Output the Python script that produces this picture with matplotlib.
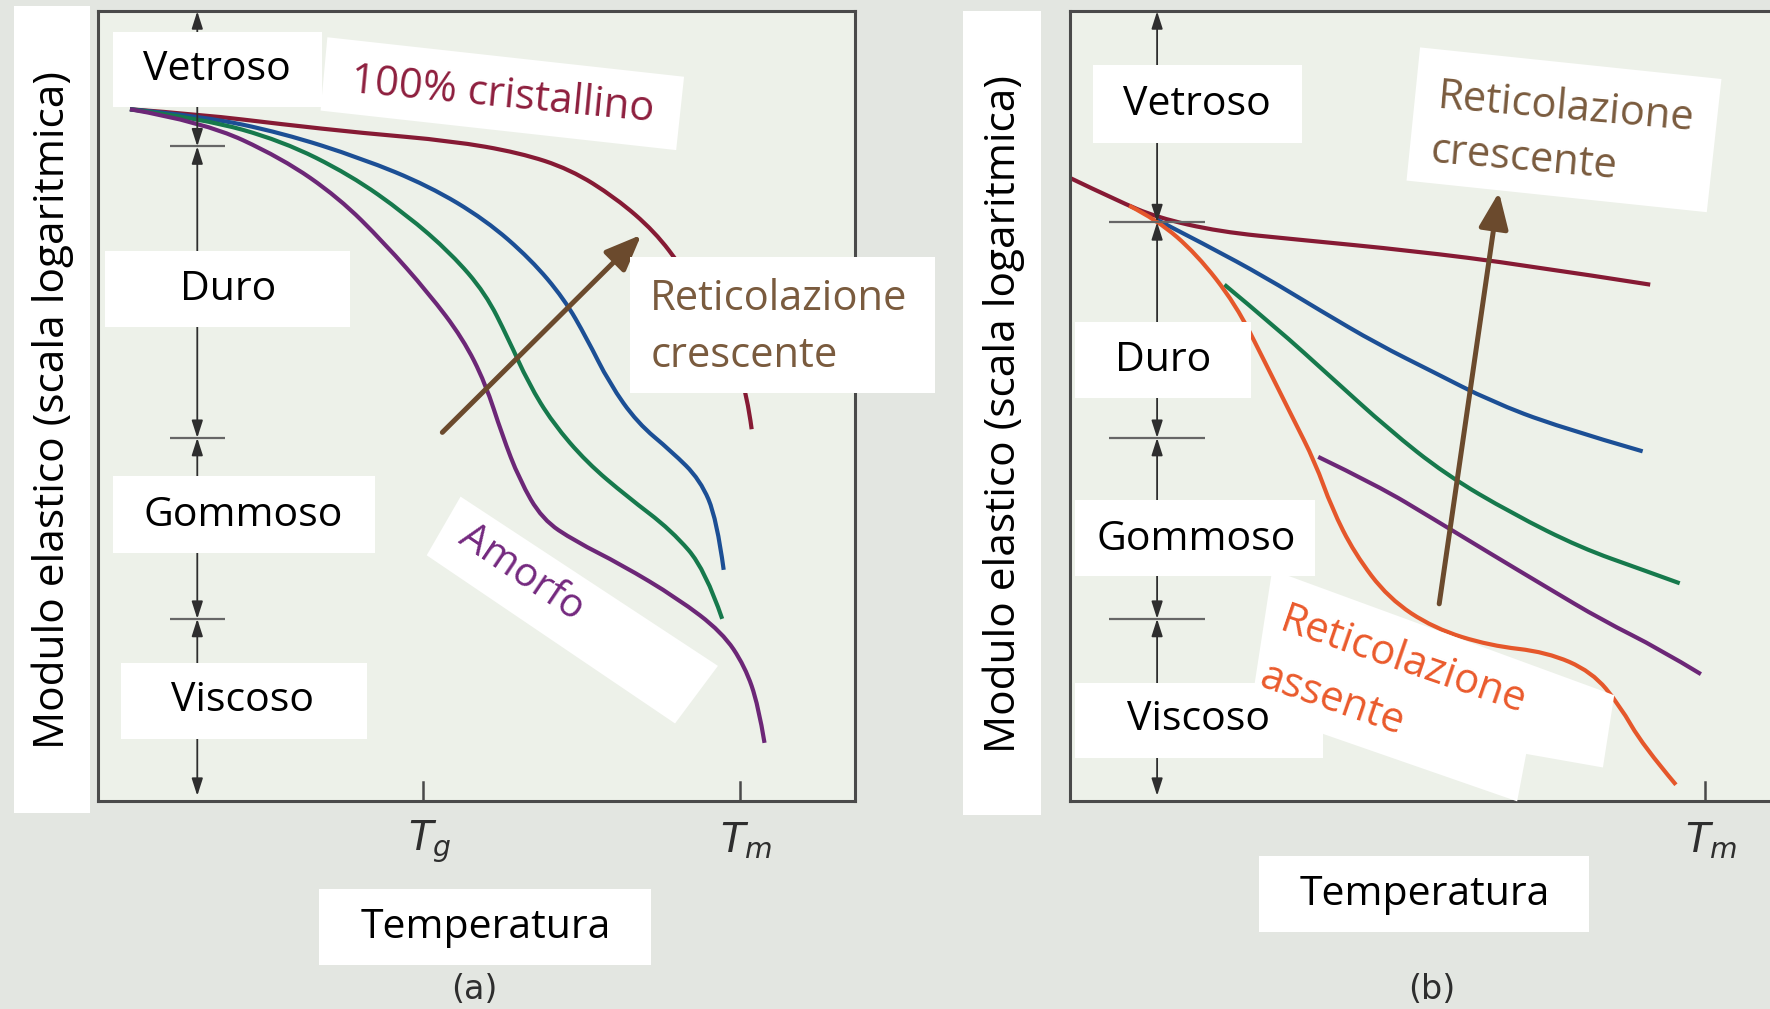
import matplotlib
matplotlib.use("Agg")
import matplotlib.pyplot as plt
from matplotlib.patches import Rectangle, Polygon, PathPatch
from matplotlib.path import Path

# ---------------------------------------------------------------- dati
# unita: x = temperatura (0-100 sul riquadro a), y = log modulo (0-100)
A_CRIST_X = [4.2, 13.9, 24.3, 34.8, 46.7, 55.7, 62.4, 68.4, 73.6, 77.3, 81.0, 84.0, 85.8, 86.4]
A_CRIST_Y = [87.6, 86.9, 85.7, 84.6, 83.6, 82.1, 80.0, 76.4, 72.1, 67.4, 62.1, 56.4, 51.4, 47.1]
A_BLU_X = [4.2, 13.9, 24.3, 34.8, 43.7, 51.2, 57.2, 61.6, 64.6, 67.6, 71.3, 75.8, 79.6, 81.8, 82.7]
A_BLU_Y = [87.6, 86.7, 84.6, 81.4, 77.9, 73.6, 68.6, 63.6, 58.6, 52.9, 47.9, 44.3, 40.7, 35.7, 29.3]
A_VERDE_X = [4.2, 13.9, 24.3, 33.3, 40.7, 46.7, 51.2, 54.2, 56.9, 60.1, 64.6, 69.9, 75.8, 80.3, 82.5]
A_VERDE_Y = [87.6, 86.4, 83.6, 79.3, 74.3, 69.3, 64.3, 58.6, 52.9, 47.9, 42.9, 38.6, 34.3, 29.3, 23.1]
A_AMORFO_X = [4.2, 13.9, 24.3, 31.8, 37.8, 43.7, 48.2, 51.2, 53.4, 55.7, 58.7, 63.1, 69.1,
              76.6, 82.5, 85.5, 87.3, 88.1]
A_AMORFO_Y = [87.6, 86.0, 81.4, 76.4, 70.7, 64.3, 58.6, 52.9, 46.4, 40.7, 35.7, 32.9, 30.0,
              25.7, 21.4, 17.1, 12.1, 7.4]

B_ROSSO_X = [0.0, 6.3, 11.5, 19.7, 30.1, 45.1, 60.0, 76.7]
B_ROSSO_Y = [78.9, 76.0, 73.9, 72.1, 71.1, 69.7, 67.9, 65.4]
B_ASSENTE_X = [7.8, 11.5, 16.7, 21.9, 25.7, 29.4, 32.4, 34.6, 37.6, 42.1, 48.1, 55.5, 63.0,
               69.0, 72.7, 75.7, 80.1]
B_ASSENTE_Y = [75.4, 73.6, 69.3, 62.9, 55.7, 48.6, 42.9, 37.1, 31.4, 25.7, 21.9, 19.7, 18.9,
               16.4, 12.1, 7.1, 2.1]
B_BLU_X = [11.5, 18.2, 25.7, 33.1, 40.6, 48.1, 55.5, 64.5, 75.7]
B_BLU_Y = [73.6, 70.3, 66.4, 62.1, 57.9, 54.3, 50.7, 47.4, 44.3]
B_VERDE_X = [20.4, 27.2, 34.6, 42.1, 49.6, 58.5, 67.5, 75.7, 80.6]
B_VERDE_Y = [65.4, 60.0, 53.6, 47.1, 41.4, 36.4, 32.1, 29.3, 27.6]
B_VIOLA_X = [32.8, 40.6, 48.1, 55.5, 63.0, 70.4, 77.9, 83.4]
B_VIOLA_Y = [43.6, 40.0, 35.7, 31.4, 27.1, 22.9, 19.3, 16.1]

A_TICKS = [43.0, 84.8]
A_TICK_LABELS = [r"$T_g$", r"$T_m$"]
B_TICKS = [83.9]
B_TICK_LABELS = [r"$T_m$"]

# confini fra le zone (vetroso / duro / gommoso / viscoso)
A_ZONE_X = 13.1
A_ZONE_Y = [100.0, 82.9, 46.0, 23.1, 0.7]
B_ZONE_X = 11.5
B_ZONE_Y = [100.0, 73.3, 46.0, 23.1, 0.7]

A_FRECCIA = [(45.5, 46.7), (71.8, 71.7)]
B_FRECCIA = [(48.8, 25.0), (56.7, 77.1)]

# ---------------------------------------------------------------- stile
C_CRIST = "#861a34"
C_BLU = "#1c4f95"
C_VERDE = "#16794c"
C_VIOLA = "#6c2777"
C_ARANCIO = "#e5572b"
C_FRECCIA = "#6b4a2d"
C_TESTO_MARRONE = "#7a5b3e"
C_TESTO_ROSSO = "#8e1f3e"
C_TESTO_VIOLA = "#74297f"
C_TESTO_ARANCIO = "#ea5a2c"
INK = "#2e2e2e"
FRAME = "#4a4a4a"
FS = 29.5

plt.rcParams["font.family"] = ["Open Sans", "DejaVu Sans"]
plt.rcParams["mathtext.fontset"] = "dejavusans"

W0, H0 = 1568, 894  # riferimento di impaginazione (pixel dell'anteprima)


def fx(x):
    return x / W0


def fy(y):
    return 1 - y / H0


fig = plt.figure(figsize=(17.7, 10.09), dpi=100, facecolor="#e3e6e1")


def box(x0, y0, x1, y1):
    fig.add_artist(Rectangle((fx(x0), fy(y1)), fx(x1) - fx(x0), fy(y0) - fy(y1),
                             transform=fig.transFigure, facecolor="white",
                             edgecolor="none", zorder=5))


def poly(points):
    fig.add_artist(Polygon([(fx(x), fy(y)) for x, y in points], closed=True,
                           transform=fig.transFigure, facecolor="white",
                           edgecolor="none", zorder=5))


def label(x, y, s, size=FS, color="black", rot=0, ha="center"):
    fig.text(fx(x), fy(y), s, fontsize=size, color=color, rotation=rot,
             ha=ha, va="center", rotation_mode="anchor", zorder=6)


def setup_axes(ax, xmax, right_spine=True):
    ax.set_xlim(0, xmax)
    ax.set_ylim(0, 100)
    ax.set_facecolor("#edf1e9")
    ax.set_xticks([])
    ax.set_yticks([])
    for sp in ax.spines.values():
        sp.set_color(FRAME)
        sp.set_linewidth(2.2)
    ax.spines["right"].set_visible(right_spine)


def curve(ax, xs, ys, color):
    # curva liscia: i punti letti fanno da controllo per segmenti quadratici
    pts = list(zip(xs, ys))
    verts, codes = [pts[0]], [Path.MOVETO]
    for i in range(1, len(pts) - 1):
        end = pts[i + 1] if i == len(pts) - 2 else (
            (pts[i][0] + pts[i + 1][0]) / 2, (pts[i][1] + pts[i + 1][1]) / 2)
        verts += [pts[i], end]
        codes += [Path.CURVE3, Path.CURVE3]
    ax.add_patch(PathPatch(Path(verts, codes), facecolor="none", edgecolor=color,
                           lw=3.0, capstyle="butt", joinstyle="round"))


def zone_arrows(ax, x, ys, half):
    for top, bot in zip(ys[:-1], ys[1:]):
        ax.annotate("", xy=(x, bot), xytext=(x, top),
                    arrowprops=dict(arrowstyle="<|-|>,head_length=0.75,head_width=0.24",
                                    color=INK, lw=1.3, shrinkA=0, shrinkB=0,
                                    mutation_scale=14))
    for yb in ys[1:-1]:
        ax.plot([x - half, x + half], [yb, yb], color="#666666", lw=1.6,
                solid_capstyle="butt")


def ticks(ax, xs, labels, dx=0.0):
    for xt, lab in zip(xs, labels):
        ax.plot([xt, xt], [0, 2.4], color=FRAME, lw=1.8)
        ax.text(xt + dx, -5.2, lab, fontsize=29, color=INK, ha="center",
                va="center", clip_on=False)


def big_arrow(ax, pts):
    (x0, y0), (x1, y1) = pts
    ax.annotate("", xy=(x1, y1), xytext=(x0, y0),
                arrowprops=dict(arrowstyle="-|>,head_length=1.1,head_width=0.45",
                                color=C_FRECCIA, lw=3.6, shrinkA=0, shrinkB=0,
                                mutation_scale=20))


# ---------------------------------------------------------------- pannello (a)
ax_a = fig.add_axes([fx(87), fy(710), fx(757) - fx(87), fy(10) - fy(710)])
setup_axes(ax_a, 100)
zone_arrows(ax_a, A_ZONE_X, A_ZONE_Y, 3.6)
curve(ax_a, A_CRIST_X, A_CRIST_Y, C_CRIST)
curve(ax_a, A_BLU_X, A_BLU_Y, C_BLU)
curve(ax_a, A_VERDE_X, A_VERDE_Y, C_VERDE)
curve(ax_a, A_AMORFO_X, A_AMORFO_Y, C_VIOLA)
big_arrow(ax_a, A_FRECCIA)
ticks(ax_a, A_TICKS, A_TICK_LABELS, dx=0.8)

# ---------------------------------------------------------------- pannello (b)
b_width = 1 - fx(948) + 0.01
ax_b = fig.add_axes([fx(948), fy(710), b_width, fy(10) - fy(710)])
setup_axes(ax_b, b_width * W0 / 6.7, right_spine=False)
zone_arrows(ax_b, B_ZONE_X, B_ZONE_Y, 6.3)
curve(ax_b, B_ROSSO_X, B_ROSSO_Y, C_CRIST)
curve(ax_b, B_BLU_X, B_BLU_Y, C_BLU)
curve(ax_b, B_VERDE_X, B_VERDE_Y, C_VERDE)
curve(ax_b, B_VIOLA_X, B_VIOLA_Y, C_VIOLA)
curve(ax_b, B_ASSENTE_X, B_ASSENTE_Y, C_ARANCIO)
big_arrow(ax_b, B_FRECCIA)
ticks(ax_b, B_TICKS, B_TICK_LABELS, dx=0.8)

# ---------------------------------------------------------------- etichette (a)
box(12, 5, 80, 720)
label(47, 363, "Modulo elastico (scala logaritmica)", size=30.5, rot=90)
box(100, 28, 285, 95)
label(192, 62, "Vetroso")
poly([(290, 33), (606, 68), (599, 133), (284, 98)])
label(445, 85, "100% cristallino", size=30, color=C_TESTO_ROSSO, rot=-5.5)
box(93, 222, 310, 290)
label(202, 257, "Duro")
box(100, 422, 332, 490)
label(215, 457, "Gommoso")
box(107, 587, 325, 655)
label(215, 621, "Viscoso")
box(558, 228, 828, 348)
label(576, 265, "Reticolazione", size=30, color=C_TESTO_MARRONE, ha="left")
label(576, 315, "crescente", size=30, color=C_TESTO_MARRONE, ha="left")
poly([(408, 440), (636, 590), (598, 641), (378, 492)])
label(462, 508, "Amorfo", size=29, color=C_TESTO_VIOLA, rot=-34)
box(283, 788, 577, 855)
label(430, 822, "Temperatura")
fig.text(fx(420), fy(877), "(a)", fontsize=24, color=INK, ha="center", va="center",
         family="DejaVu Sans")

# ---------------------------------------------------------------- etichette (b)
box(853, 10, 922, 722)
label(889, 367, "Modulo elastico (scala logaritmica)", size=30.5, rot=90)
box(968, 58, 1153, 127)
label(1060, 93, "Vetroso")
box(952, 285, 1108, 353)
label(1030, 320, "Duro")
box(952, 443, 1165, 510)
label(1060, 478, "Gommoso")
box(952, 605, 1172, 672)
label(1062, 638, "Viscoso")
poly([(1258, 42), (1525, 70), (1512, 188), (1246, 160)])
label(1387, 96, "Reticolazione", size=30, color=C_TESTO_MARRONE, rot=-5)
label(1350, 141, "crescente", size=30, color=C_TESTO_MARRONE, rot=-5)
poly([(1127, 505), (1430, 616), (1420, 680), (1352, 668), (1344, 710), (1108, 628)])
label(1243, 586, "Reticolazione", size=30, color=C_TESTO_ARANCIO, rot=-19)
label(1180, 620, "assente", size=30, color=C_TESTO_ARANCIO, rot=-19)
box(1115, 758, 1408, 826)
label(1262, 793, "Temperatura")
fig.text(fx(1268), fy(877), "(b)", fontsize=24, color=INK, ha="center", va="center",
         family="DejaVu Sans")

fig.savefig("out.png", dpi=100, facecolor=fig.get_facecolor())
